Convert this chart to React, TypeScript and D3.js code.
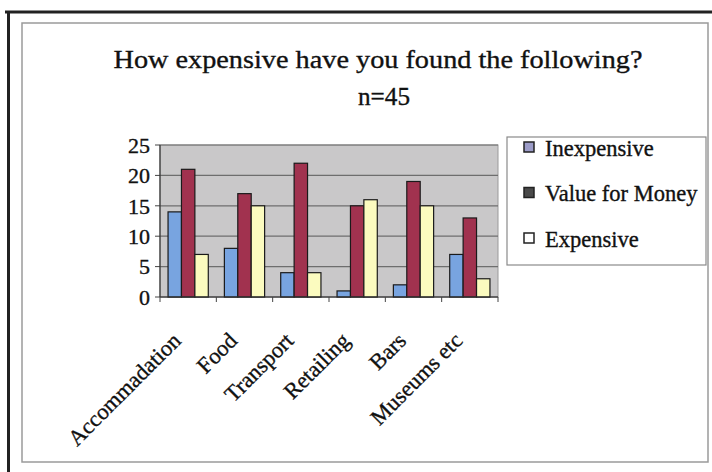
import React from 'react'
import * as d3 from 'd3'

const categories = ['Accommadation', 'Food', 'Transport', 'Retailing', 'Bars', 'Museums etc']
const seriesNames = ['Inexpensive', 'Value for Money', 'Expensive']
const inexpensive = [14, 8, 4, 1, 2, 7]
const valueForMoney = [21, 17, 22, 15, 19, 13]
const expensive = [7, 15, 4, 16, 15, 3]
const yTicks = [0, 5, 10, 15, 20, 25]

const barColors = ['#78a4e0', '#a1324f', '#fbfbbf']
const legendColors = ['#9c9cc8', '#4a4a4a', '#ffffff']

const W = 712
const H = 472
const plot = { left: 160, right: 498, top: 145, bottom: 297 }
const serif = '"Liberation Serif", "Times New Roman", serif'

export default function App() {
  const series = [inexpensive, valueForMoney, expensive]

  const x = d3
    .scaleBand<string>()
    .domain(categories)
    .range([plot.left, plot.right])
    .paddingInner(0)
  // gap width ~120% -> bars take 3 / 4.2 of each group
  const gap = (x.bandwidth() * 0.6) / 4.2
  const inner = d3
    .scaleBand<number>()
    .domain([0, 1, 2])
    .range([gap, x.bandwidth() - gap])
  const y = d3.scaleLinear().domain([0, 25]).range([plot.bottom, plot.top])

  const groupEdges = categories.map((c) => x(c)!).concat([plot.right])
  const ink = { fill: '#111', stroke: '#111', strokeWidth: 0.35 }

  return (
    <svg width={W} height={H} style={{ position: 'absolute', left: 0, top: 0, background: '#fff' }}>
      {/* frame */}
      <line x1={5} x2={W} y1={12} y2={12} stroke="#222" strokeWidth={3} />
      <line x1={8.5} x2={8.5} y1={11} y2={H} stroke="#222" strokeWidth={3} />
      <rect x={22} y={23} width={686} height={439} fill="#fff" stroke="#9a9a9a" strokeWidth={1.5} />

      {/* title */}
      <text x={378} y={68} textAnchor="middle" fontFamily={serif} fontSize={26} textLength={529} lengthAdjust="spacingAndGlyphs" {...ink}>
        How expensive have you found the following?
      </text>
      <text x={384} y={105} textAnchor="middle" fontFamily={serif} fontSize={25} textLength={52} lengthAdjust="spacingAndGlyphs" {...ink}>
        n=45
      </text>

      {/* plot area */}
      <rect
        x={plot.left}
        y={plot.top}
        width={plot.right - plot.left}
        height={plot.bottom - plot.top}
        fill="#c9c8c9"
        stroke="#9a9a9a"
      />
      {yTicks.map((t) => (
        <g key={t}>
          <line x1={plot.left} x2={plot.right} y1={y(t)} y2={y(t)} stroke="#6e6e6e" strokeWidth={1.2} />
          <line x1={plot.left - 5} x2={plot.left} y1={y(t)} y2={y(t)} stroke="#444" />
          <text
            x={plot.left - 10}
            y={y(t)}
            dy="0.35em"
            textAnchor="end"
            fontFamily={serif}
            fontSize={22}
            {...ink}
          >
            {t}
          </text>
        </g>
      ))}

      {/* bars */}
      {categories.map((c, i) => (
        <g key={c} transform={`translate(${x(c)},0)`}>
          {series.map((s, j) => (
            <rect
              key={j}
              x={inner(j)}
              y={y(s[i])}
              width={inner.bandwidth()}
              height={plot.bottom - y(s[i])}
              fill={barColors[j]}
              stroke="#1a1a1a"
              strokeWidth={1.2}
            />
          ))}
        </g>
      ))}

      {/* axes */}
      <line x1={plot.left} x2={plot.left} y1={plot.top} y2={plot.bottom} stroke="#333" strokeWidth={1.2} />
      <line x1={plot.left} x2={plot.right} y1={plot.bottom} y2={plot.bottom} stroke="#333" strokeWidth={1.2} />
      {groupEdges.map((gx, i) => (
        <line key={i} x1={gx} x2={gx} y1={plot.bottom} y2={plot.bottom + 5} stroke="#444" />
      ))}

      {/* category labels */}
      {categories.map((c) => (
        <text
          key={c}
          transform={`translate(${x(c)! + x.bandwidth() / 2 - 6},342) rotate(-45)`}
          textAnchor="end"
          fontFamily={serif}
          fontSize={22.5}
          {...ink}
        >
          {c}
        </text>
      ))}

      {/* legend */}
      <rect x={507} y={137} width={199} height={128} fill="#fff" stroke="#8a8a8a" strokeWidth={1.2} />
      {seriesNames.map((n, i) => (
        <g key={n} transform={`translate(0,${148 + i * 45.5})`}>
          <rect x={524} y={-6} width={10} height={10} fill={legendColors[i]} stroke="#222" strokeWidth={1.5} />
          <text x={545} y={0} dy="0.35em" fontFamily={serif} fontSize={22.5} {...ink}>
            {n}
          </text>
        </g>
      ))}
    </svg>
  )
}
